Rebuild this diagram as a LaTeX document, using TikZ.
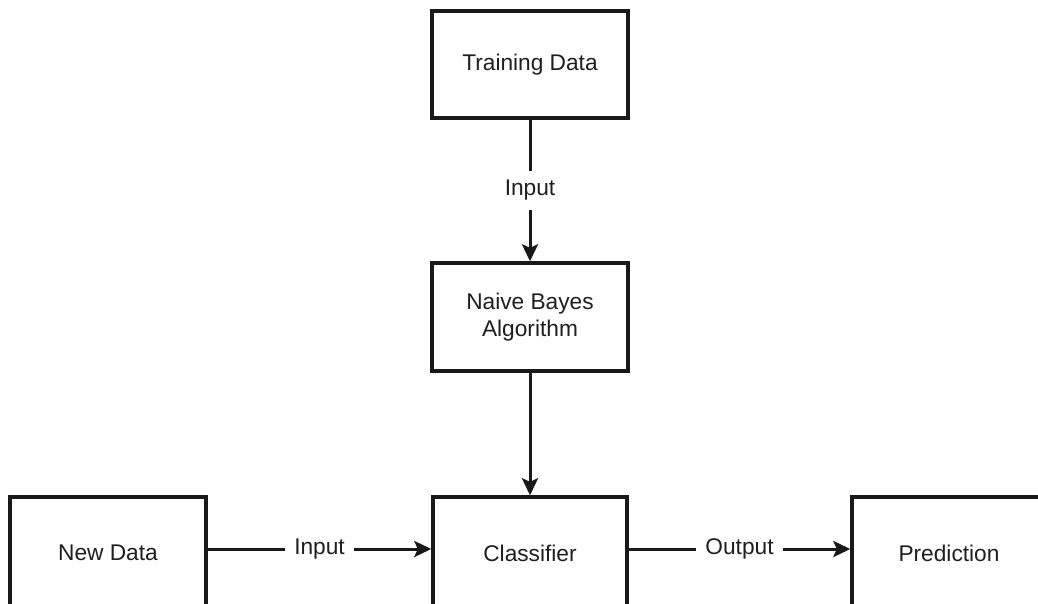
\documentclass[tikz,border=0pt]{standalone}
\usepackage{fontspec}
\setmainfont{Liberation Sans}
\usetikzlibrary{arrows.meta}
\begin{document}
\begin{tikzpicture}[x=1pt,y=-1pt,
  box/.style={draw=black!90, line width=3.4pt, fill=white, minimum width=196pt, inner sep=0pt, align=center, font=\fontsize{22.7}{27}\selectfont, text=black!88},
  conn/.style={draw=black!90, line width=3pt, -{Stealth[length=17pt,width=16pt,inset=3.5pt]}},
  lbl/.style={fill=white, inner xsep=9pt, inner ysep=9pt, font=\fontsize{22.7}{27}\selectfont, text=black!88}]
\useasboundingbox (0,0) rectangle (1038,604);
\clip (0,0) rectangle (1038,604);
\node[box, minimum height=107pt] (td) at (530,64.5) {Training Data};
\node[box, minimum height=108pt] (nb) at (530,317) {Naive Bayes\\Algorithm};
\node[box, minimum height=112pt, minimum width=194pt] (cl) at (530,553) {Classifier};
\node[box, minimum height=112pt] (nd) at (108,553) {New Data};
\node[box, minimum height=112pt, minimum width=194pt] (pr) at (949,553) {Prediction};
\draw[conn] (td) -- node[lbl] {Input} (nb);
\draw[conn] (nb) -- (cl);
\draw[conn] (nd.east |- 0,549) -- node[lbl] {Input} (cl.west |- 0,549);
\draw[conn] (cl.east |- 0,549) -- node[lbl] {Output} (pr.west |- 0,549);
\end{tikzpicture}
\end{document}
